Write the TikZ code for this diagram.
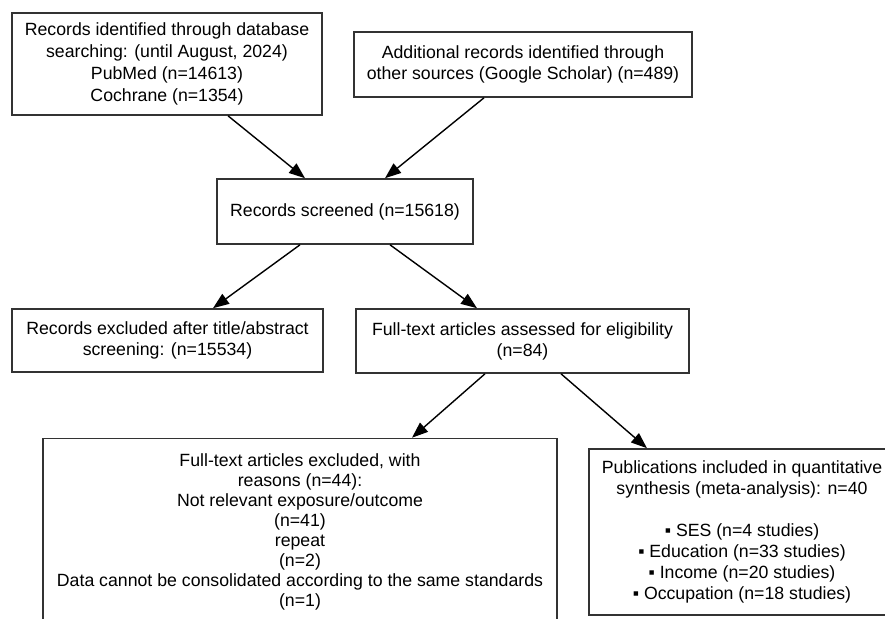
\documentclass[tikz,border=0pt]{standalone}
\usepackage{fontspec}
\setmainfont{Liberation Sans}
\usepackage{tikz}
\usetikzlibrary{arrows.meta}

\begin{document}
\begin{tikzpicture}[
  x=1pt, y=-1pt,
  >={Triangle[length=16pt,width=12pt]},
  box/.style={rectangle,draw=black!80,line width=1.6pt,align=center,inner sep=0pt,
    font=\fontsize{17.7}{21}\selectfont},
  flow/.style={->,line width=1.4pt}
]
\useasboundingbox (0,0) rectangle (885,618);
% top row
\node[box,minimum width=310pt,minimum height=102pt,font=\fontsize{17.7}{22}\selectfont] (A) at (167,64)
  {Records identified through database\\searching: (until August, 2024)\\PubMed (n=14613)\\Cochrane (n=1354)};
\node[box,minimum width=338pt,minimum height=65pt] (B) at (523,64.5)
  {Additional records identified through\\other sources (Google Scholar) (n=489)};
% screening
\node[box,minimum width=256pt,minimum height=65pt] (C) at (345,211.5)
  {Records screened (n=15618)};
\node[box,minimum width=311pt,minimum height=63pt] (D) at (167.5,340.5)
  {Records excluded after title/abstract\\screening: (n=15534)};
\node[box,minimum width=333pt,minimum height=64pt] (E) at (522.5,341)
  {Full-text articles assessed for eligibility\\(n=84)};
% bottom row
\node[box,minimum width=514pt,minimum height=186pt,font=\fontsize{17.7}{20}\selectfont] (F) at (300,531.5)
  {Full-text articles excluded, with\\reasons (n=44):\\Not relevant exposure/outcome\\(n=41)\\repeat\\(n=2)\\
   Data cannot be consolidated according to the same standards\\(n=1)};
\node[box,minimum width=306pt,minimum height=166pt] (G) at (742,532)
  {Publications included in quantitative\\synthesis (meta-analysis): n=40\\[21pt]
   ▪ SES (n=4 studies)\\▪ Education (n=33 studies)\\▪ Income (n=20 studies)\\▪ Occupation (n=18 studies)};

\draw[flow] ([xshift=61pt]A.south) -- ([xshift=-40pt]C.north);
\draw[flow] ([xshift=-39pt]B.south) -- ([xshift=40pt]C.north);
\draw[flow] ([xshift=-45pt]C.south) -- ([xshift=45.5pt]D.north);
\draw[flow] ([xshift=45pt]C.south) -- ([xshift=-45.5pt]E.north);
\draw[flow] ([xshift=-37.5pt]E.south) -- ([xshift=112pt]F.north);
\draw[flow] ([xshift=38.5pt]E.south) -- ([xshift=-95pt]G.north);
\end{tikzpicture}
\end{document}
